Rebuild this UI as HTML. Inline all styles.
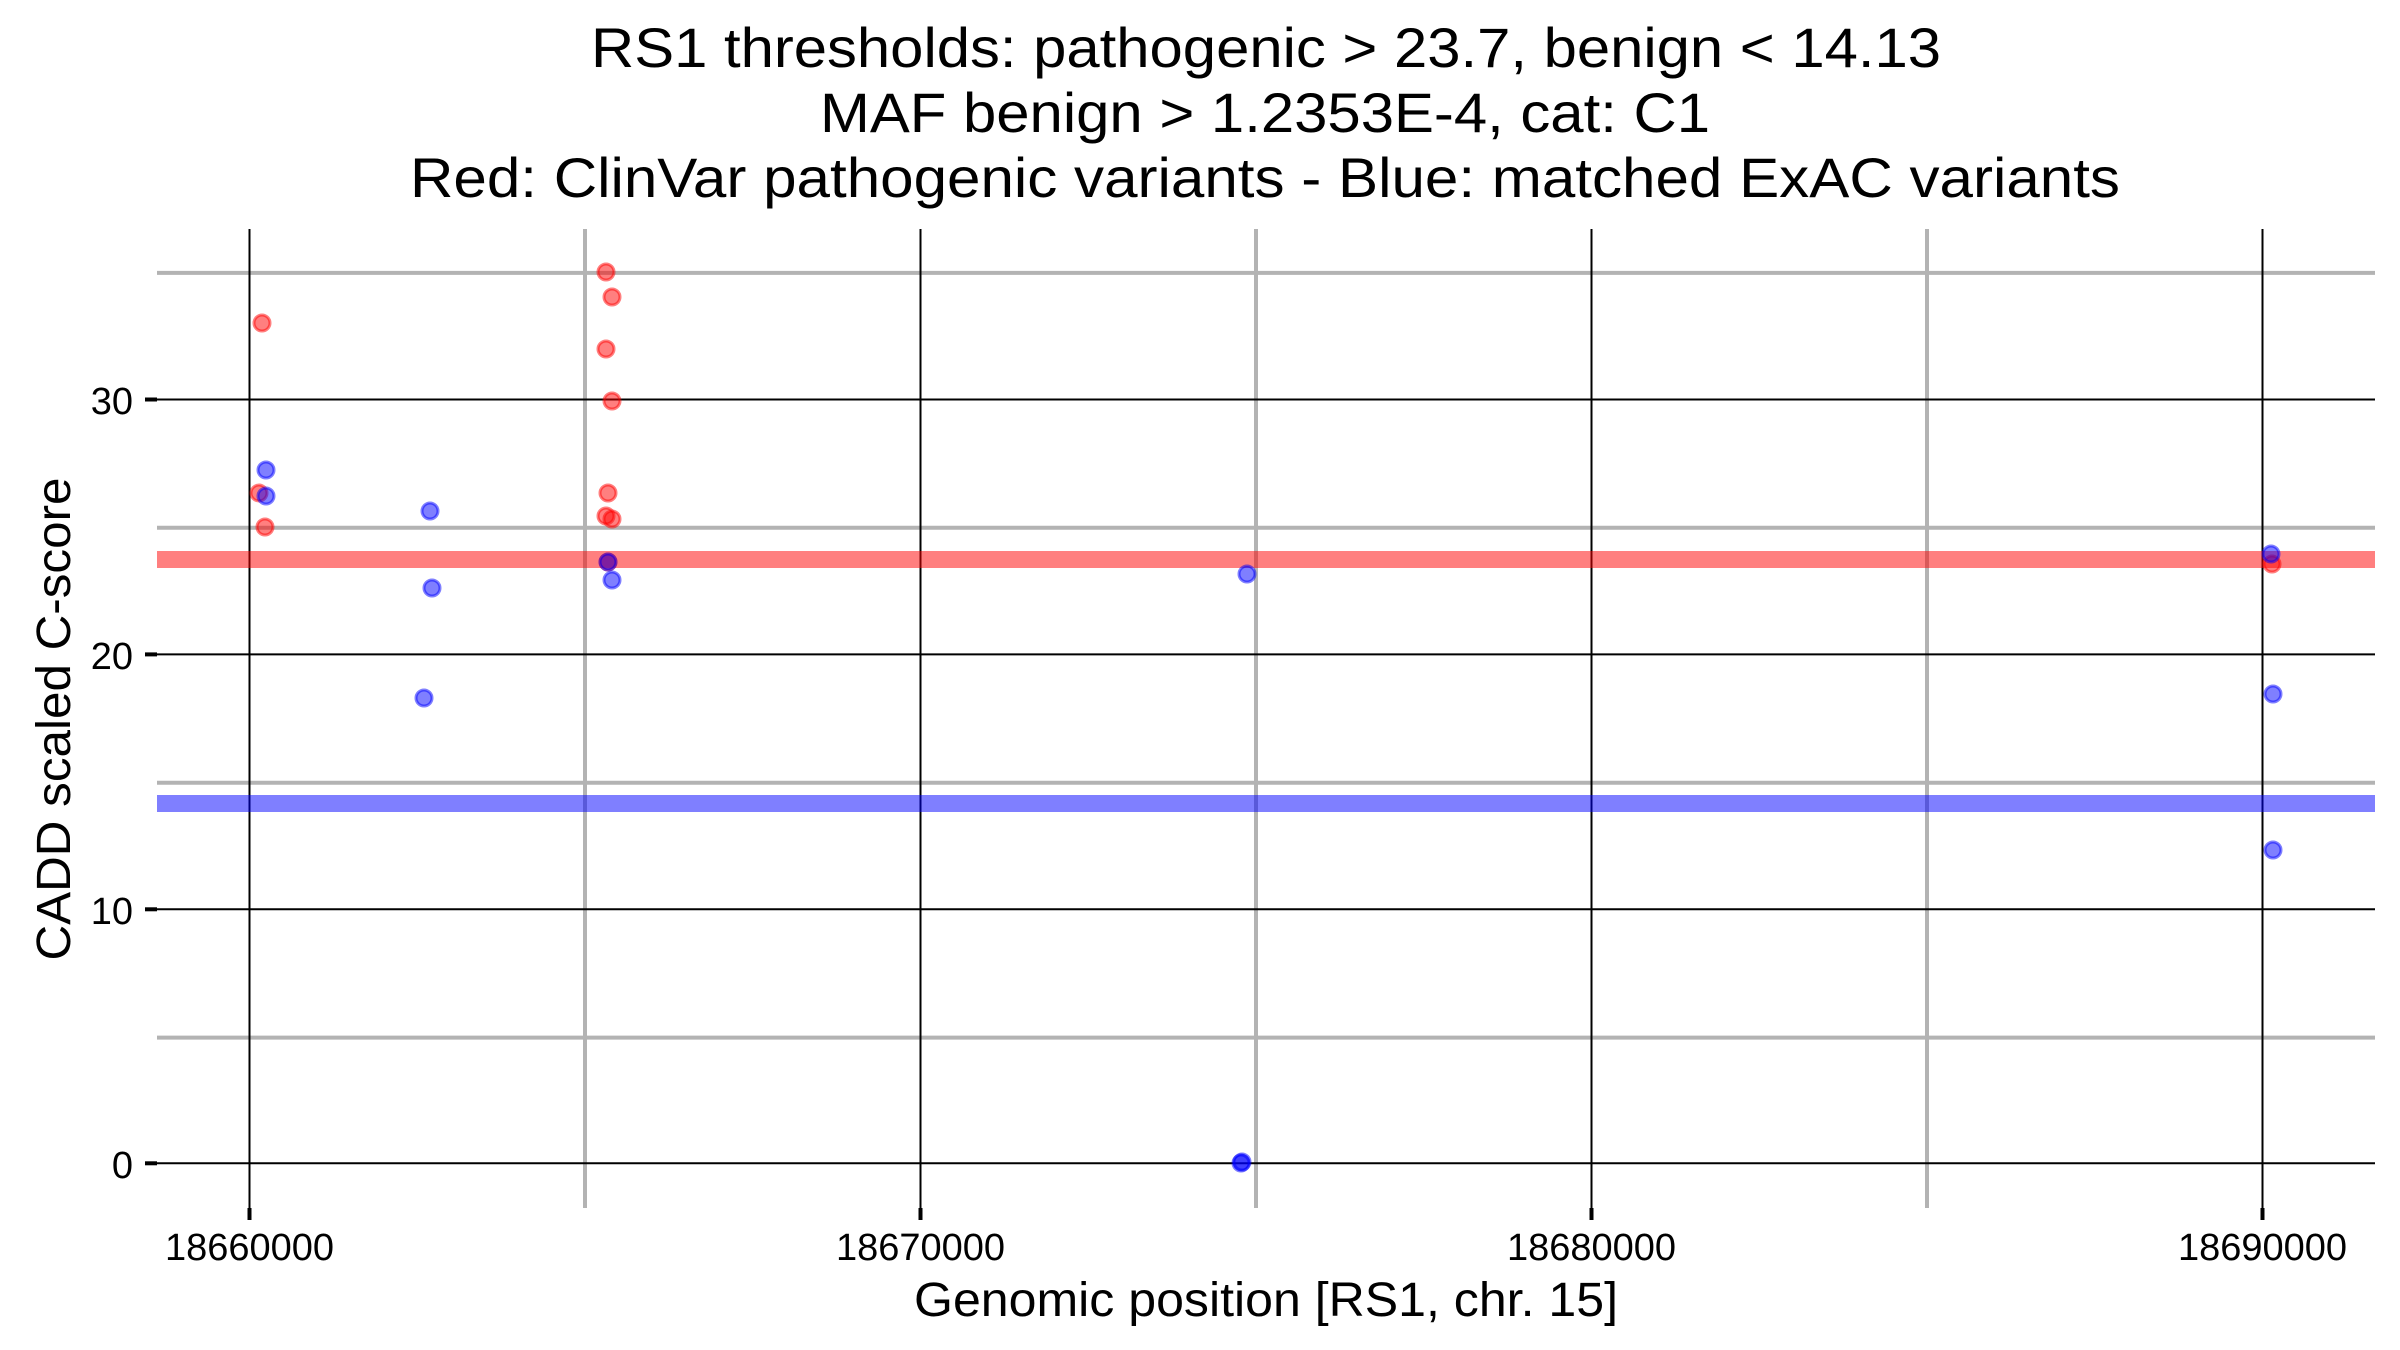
<!DOCTYPE html>
<html><head><meta charset="utf-8"><style>html,body{margin:0;padding:0;background:#fff}svg{display:block}</style></head>
<body>
<svg width="2400" height="1350" viewBox="0 0 2400 1350" xmlns="http://www.w3.org/2000/svg" font-family="Liberation Sans, Arial, sans-serif">
<rect width="2400" height="1350" fill="#fff"/>
<g stroke="#b3b3b3" stroke-width="4">
<line x1="157" x2="2375" y1="272.9" y2="272.9"/>
<line x1="157" x2="2375" y1="527.8" y2="527.8"/>
<line x1="157" x2="2375" y1="782.7" y2="782.7"/>
<line x1="157" x2="2375" y1="1037.6" y2="1037.6"/>
<line x1="585" x2="585" y1="229" y2="1208"/>
<line x1="1256" x2="1256" y1="229" y2="1208"/>
<line x1="1927" x2="1927" y1="229" y2="1208"/>
</g>
<g stroke="#000" stroke-width="2">
<line x1="157" x2="2375" y1="399.5" y2="399.5"/>
<line x1="157" x2="2375" y1="654.4" y2="654.4"/>
<line x1="157" x2="2375" y1="909.3" y2="909.3"/>
<line x1="157" x2="2375" y1="1163.3" y2="1163.3"/>
<line x1="249.5" x2="249.5" y1="229" y2="1208"/>
<line x1="920.5" x2="920.5" y1="229" y2="1208"/>
<line x1="1591.5" x2="1591.5" y1="229" y2="1208"/>
<line x1="2262.5" x2="2262.5" y1="229" y2="1208"/>
</g>
<rect x="157" y="551" width="2218" height="17" fill="#ff0000" fill-opacity="0.5"/>
<rect x="157" y="795" width="2218" height="17" fill="#0000ff" fill-opacity="0.5"/>
<g fill="#ff0000" fill-opacity="0.5" stroke="#ff0000" stroke-opacity="0.5" stroke-width="3">
<circle cx="262" cy="323" r="8"/><circle cx="259" cy="493" r="8"/><circle cx="265" cy="527" r="8"/>
<circle cx="606" cy="272" r="8"/><circle cx="612" cy="297" r="8"/><circle cx="606" cy="349" r="8"/>
<circle cx="612" cy="401" r="8"/><circle cx="608" cy="493" r="8"/><circle cx="606" cy="516" r="8"/>
<circle cx="612" cy="519" r="8"/><circle cx="608" cy="562" r="8"/><circle cx="2272" cy="564" r="8"/>
</g>
<g fill="#0000ff" fill-opacity="0.5" stroke="#0000ff" stroke-opacity="0.5" stroke-width="3">
<circle cx="266" cy="470" r="8"/><circle cx="266" cy="496" r="8"/><circle cx="430" cy="511" r="8"/>
<circle cx="432" cy="588" r="8"/><circle cx="424" cy="698" r="8"/><circle cx="608" cy="562" r="8"/>
<circle cx="612" cy="580" r="8"/><circle cx="1247" cy="574" r="8"/><circle cx="1241" cy="1163" r="8"/>
<circle cx="1242" cy="1162" r="8"/><circle cx="2271" cy="554" r="8"/><circle cx="2273" cy="694" r="8"/>
<circle cx="2273" cy="850" r="8"/>
</g>
<g stroke="#000" stroke-width="4">
<line x1="145" x2="157" y1="399.5" y2="399.5"/><line x1="145" x2="157" y1="654.4" y2="654.4"/>
<line x1="145" x2="157" y1="909.3" y2="909.3"/><line x1="145" x2="157" y1="1163.3" y2="1163.3"/>
<line x1="249.5" x2="249.5" y1="1208" y2="1220"/><line x1="920.5" x2="920.5" y1="1208" y2="1220"/>
<line x1="1591.5" x2="1591.5" y1="1208" y2="1220"/><line x1="2262.5" x2="2262.5" y1="1208" y2="1220"/>
</g>
<g font-size="38" text-anchor="end" fill="#000">
<text x="133" y="414">30</text><text x="133" y="669">20</text><text x="133" y="924">10</text><text x="133" y="1178">0</text>
</g>
<g font-size="38" text-anchor="middle" fill="#000">
<text x="249.5" y="1260">18660000</text><text x="920.5" y="1260">18670000</text>
<text x="1591.5" y="1260">18680000</text><text x="2262.5" y="1260">18690000</text>
</g>
<text x="1266" y="1316" font-size="48" text-anchor="middle" textLength="704" lengthAdjust="spacingAndGlyphs">Genomic position [RS1, chr. 15]</text>
<text transform="translate(70,719) rotate(-90)" font-size="48" text-anchor="middle" textLength="483" lengthAdjust="spacingAndGlyphs">CADD scaled C-score</text>
<g font-size="56" text-anchor="middle" fill="#000">
<text x="1266" y="67" textLength="1350" lengthAdjust="spacingAndGlyphs">RS1 thresholds: pathogenic &gt; 23.7, benign &lt; 14.13</text>
<text x="1265" y="132" textLength="890" lengthAdjust="spacingAndGlyphs">MAF benign &gt; 1.2353E-4, cat: C1</text>
<text x="1265" y="197" textLength="1710" lengthAdjust="spacingAndGlyphs">Red: ClinVar pathogenic variants - Blue: matched ExAC variants</text>
</g>
</svg>
</body></html>
